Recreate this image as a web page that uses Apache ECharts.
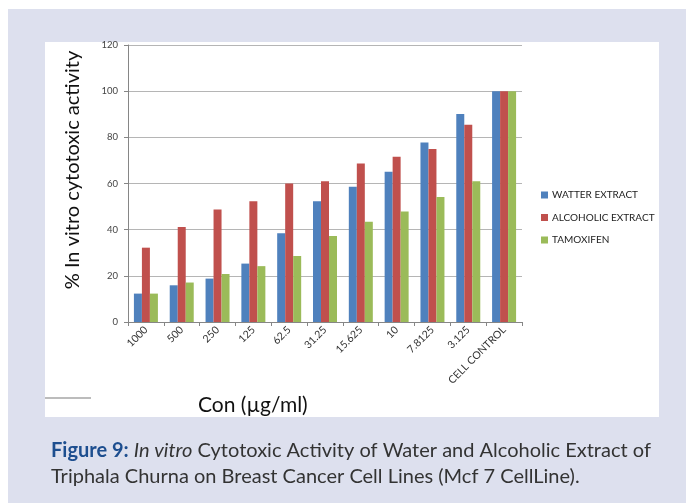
<!DOCTYPE html>
<html>
<head>
<meta charset="utf-8">
<script src="https://cdn.jsdelivr.net/npm/echarts@6/dist/echarts.min.js"></script>
<style>
html,body{margin:0;padding:0;background:#fff;}
#chart{width:686px;height:503px;}
</style>
</head>
<body>
<div id="chart"></div>
<script>
const categories = ['1000','500','250','125','62.5','31.25','15.625','10','7.8125','3.125','CELL CONTROL'];
const waterExtract = [12.3, 15.9, 18.8, 25.3, 38.5, 52.3, 58.6, 65.1, 77.8, 90.1, 100];
const alcoholicExtract = [32.2, 41.2, 48.7, 52.3, 60.0, 61.0, 68.7, 71.6, 74.9, 85.5, 100];
const tamoxifen = [12.3, 17.1, 20.8, 24.2, 28.6, 37.3, 43.4, 47.9, 54.1, 61.0, 100];
const seriesNames = ['WATTER EXTRACT','ALCOHOLIC EXTRACT','TAMOXIFEN'];
const yTicks = [0,20,40,60,80,100,120];

const chart = echarts.init(document.getElementById('chart'), null, {renderer:'canvas'});
const colors = ['#4f81bd','#c0504d','#9bbb59'];
const FONT = 'Lato, "Open Sans", sans-serif';

chart.setOption({
  animation:false,
  color: colors,
  graphic: [
    {type:'rect', z:-10, silent:true, shape:{x:8,y:9,width:678,height:494}, style:{fill:'#dde0ee'}},
    {type:'rect', z:-9, silent:true, shape:{x:45,y:42,width:614,height:375}, style:{fill:'#ffffff'}},
    {type:'line', z:-8, silent:true, shape:{x1:45,y1:398,x2:91,y2:398}, style:{stroke:'#a6a6a6',lineWidth:1.5}},
    {type:'text', x:73, y:170, rotation:Math.PI/2, silent:true,
      style:{text:'% In vitro cytotoxic activity', font:'20px '+FONT, fill:'#111', textAlign:'center', textVerticalAlign:'middle'}},
    {type:'text', x:198, y:405, silent:true,
      style:{text:'Con (µg/ml)', font:'21px '+FONT, fill:'#111', textAlign:'left', textVerticalAlign:'middle'}},
    {type:'text', x:51, y:438, silent:true,
      style:{
        text:'{b|Figure 9:} {i|In vitro} Cytotoxic Activity of Water and Alcoholic Extract of\nTriphala Churna on Breast Cancer Cell Lines (Mcf 7 CellLine).',
        font:'20px '+FONT, fill:'#333', lineHeight:26, textAlign:'left', textVerticalAlign:'top',
        rich:{
          b:{font:'bold 20px '+FONT, fill:'#1d4e8f', lineHeight:26},
          i:{font:'italic 20px '+FONT, fill:'#333', lineHeight:26}
        }
      }}
  ],
  legend: {
    orient:'vertical', left:536, top:185, itemWidth:7, itemHeight:7, itemGap:12.5,
    icon:'rect', data:seriesNames,
    textStyle:{fontSize:10, color:'#222', fontFamily:FONT, padding:[0,0,0,-1]}
  },
  grid: {left:128, right:164, top:45, bottom:181, containLabel:false},
  xAxis: {
    type:'category', data:categories,
    axisLine:{lineStyle:{color:'#868686'}},
    axisTick:{show:true, length:4, lineStyle:{color:'#868686'}},
    axisLabel:{rotate:45, fontSize:10.5, color:'#333', fontFamily:FONT, margin:6, interval:0}
  },
  yAxis: {
    type:'value', min:yTicks[0], max:yTicks[yTicks.length-1], interval:20,
    axisLine:{show:true, lineStyle:{color:'#868686'}},
    axisTick:{show:true, length:4, lineStyle:{color:'#868686'}},
    axisLabel:{fontSize:9.5, color:'#444', fontFamily:FONT, margin:10},
    splitLine:{lineStyle:{color:'#b5b5b5'}}
  },
  series: [
    {name:seriesNames[0], type:'bar', data:waterExtract, barGap:'0%', barCategoryGap:'33%'},
    {name:seriesNames[1], type:'bar', data:alcoholicExtract, barGap:'0%', barCategoryGap:'33%'},
    {name:seriesNames[2], type:'bar', data:tamoxifen, barGap:'0%', barCategoryGap:'33%'}
  ]
});
</script>
</body>
</html>
